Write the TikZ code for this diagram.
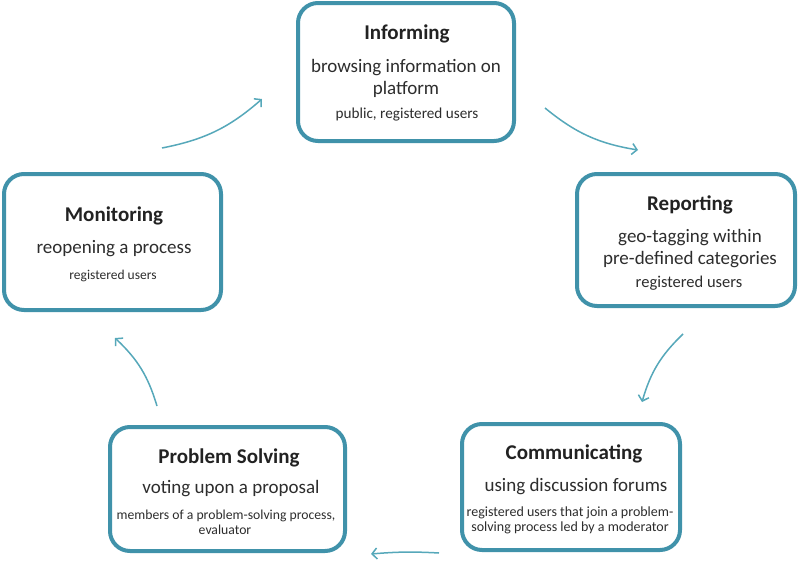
\documentclass[tikz,border=0pt]{standalone}
\usepackage{fontspec}
\setmainfont{Carlito}
\usetikzlibrary{arrows.meta}
\definecolor{boxc}{RGB}{64,146,170}
\definecolor{arrc}{RGB}{86,168,186}
\definecolor{titc}{RGB}{34,34,34}
\definecolor{txtc}{RGB}{45,45,45}
\begin{document}
\begin{tikzpicture}[x=1pt,y=-1pt,
  box/.style={draw=boxc, line width=4pt, rounded corners=20pt, fill=white, inner sep=0pt},
  tl/.style={inner sep=0pt, text height=0.7em, text depth=0.22em, anchor=center, yshift=-4.5pt},
  ttl/.style={tl, text=titc, font=\fontsize{21}{25}\selectfont\bfseries},
  sub/.style={tl, text=txtc, font=\fontsize{19}{23}\selectfont},
  sml/.style={tl, text=txtc, font=\fontsize{#1}{#1}\selectfont},
  flow/.style={draw=arrc, line width=1.5pt, -{Straight Barb[length=5pt,width=11pt,line width=1.5pt]}}
]
\useasboundingbox (0,0) rectangle (800,562);
\fill[white] (0,0) rectangle (800,562);

% boxes
\node[box, minimum width=216pt, minimum height=138pt] (inf) at (406,72) {};
\node[box, minimum width=218pt, minimum height=132pt] (rep) at (686,240) {};
\node[box, minimum width=218pt, minimum height=126pt] (com) at (571,487) {};
\node[box, minimum width=235pt, minimum height=124pt] (pro) at (227.5,489) {};
\node[box, minimum width=217pt, minimum height=136pt] (mon) at (112.5,242) {};

% Informing
\node[ttl] (inf1) at (407,33) {Informing};
\node[sub] (inf2) at (406,66) {browsing information on};
\node[sub] (inf3) at (406,88) {platform};
\node[sml=15.2] (inf4) at (407,112) {public, registered users};

% Reporting
\node[ttl] (rep1) at (690,204) {Reporting};
\node[sub] (rep2) at (690,236) {geo-tagging within};
\node[sub] (rep3) at (690,258) {pre-defined categories};
\node[sml=16.5] (rep4) at (689,281) {registered users};

% Communicating
\node[ttl] (com1) at (574,453) {Communicating};
\node[sub] (com2) at (576,485) {using discussion forums};
\node[sml=14] (com3) at (570,510) {registered users that join a problem-};
\node[sml=14] (com4) at (570,525) {solving process led by a moderator};

% Problem Solving
\node[ttl] (pro1) at (229,457) {Problem Solving};
\node[sub] (pro2) at (231,487) {voting upon a proposal};
\node[sml=13.7] (pro3) at (226,513) {members of a problem-solving process,};
\node[sml=13.7] (pro4) at (225,528) {evaluator};

% Monitoring
\node[ttl] (mon1) at (114,215) {Monitoring};
\node[sub] (mon2) at (114,247) {reopening a process};
\node[sml=13.5] (mon3) at (113,273) {registered users};

% arrow ends
\coordinate (a1s) at (162,148); \coordinate (a1e) at (262,99);
\coordinate (a2s) at (545,108); \coordinate (a2e) at (638,150);
\coordinate (a3s) at (683,334); \coordinate (a3e) at (642,402);
\coordinate (a4s) at (439,553); \coordinate (a4e) at (371,554);
\coordinate (a5s) at (157,406); \coordinate (a5e) at (115,338);

\draw[flow] (a1s) to[bend right=15] (a1e);
\draw[flow] (a2s) to[bend right=15] (a2e);
\draw[flow] (a3s) to[bend right=15] (a3e);
\draw[flow] (a4s) to[bend right=4] (a4e);
\draw[flow] (a5s) to[bend right=15] (a5e);
\end{tikzpicture}
\end{document}
